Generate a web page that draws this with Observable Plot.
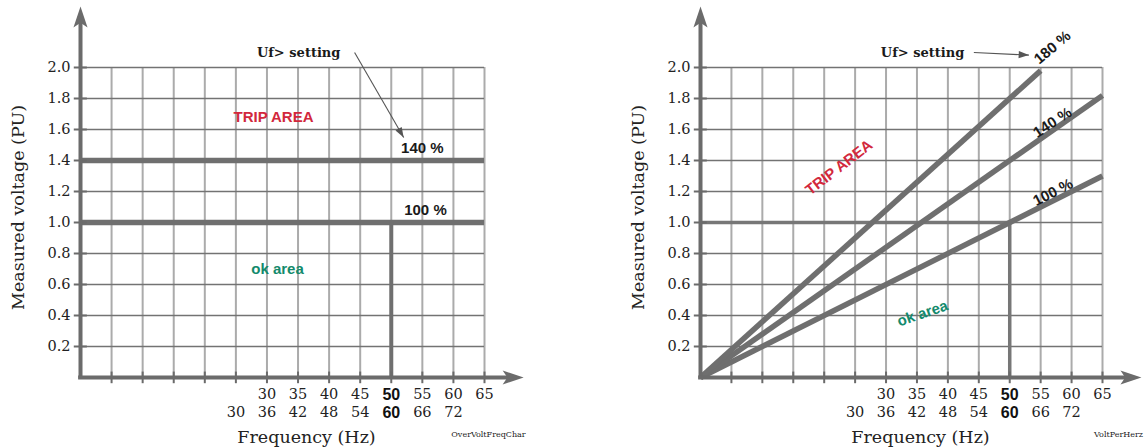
<!DOCTYPE html>
<html><head><meta charset="utf-8">
<script src="https://cdn.jsdelivr.net/npm/d3@7"></script>
<script src="https://cdn.jsdelivr.net/npm/@observablehq/plot@0.6"></script>
<style>
body{margin:0;background:#fff;}
#wrap{display:flex;width:1146px;height:448px;overflow:hidden;}
</style></head><body><div id="wrap"></div>
<script>
// ---- data ----
const freqRow50 = [30, 35, 40, 45, 50, 55, 60, 65];        // 50 Hz system labels
const freqRow60 = [30, 36, 42, 48, 54, 60, 66, 72];        // 60 Hz system labels
const gridFreqs = [5, 10, 15, 20, 25, 30, 35, 40, 45, 50, 55, 60, 65];
const voltTicks = [0.2, 0.4, 0.6, 0.8, 1.0, 1.2, 1.4, 1.6, 1.8, 2.0];
const nominal50 = 50, nominal60 = 60;
const leftSettings = [1.4, 1.0];
const leftSettingNames = ["140 %", "100 %"];
const rightSettingNames = ["100 %", "140 %", "180 %"];
const rightEndFreq = [65, 65, 55];
const rightEndVolt = [1.30, 1.82, 1.98];

const W = 573, H = 448, MT = 67, MB = 71;
const AXIS = "#6b6b6b", LINE = "#6f6f6f";
const SERIF = "DejaVu Serif", SANS = "Liberation Sans";

// custom symbols (anchor at tip, pointing up before rotation)
const stealth = {draw(ctx, size){ const r = Math.sqrt(size/Math.PI);
  ctx.moveTo(0,0); ctx.lineTo(0.67*r, 2*r); ctx.lineTo(0, 1.55*r); ctx.lineTo(-0.67*r, 2*r); ctx.closePath(); }};
const head = {draw(ctx, size){ const r = Math.sqrt(size/Math.PI);
  ctx.moveTo(0,0); ctx.lineTo(0.6*r, 1.7*r); ctx.lineTo(-0.6*r, 1.7*r); ctx.closePath(); }};

function panel(o){
  const xs = d3.scaleLinear([0,65],[o.ml, W-o.mr]);
  const ys = d3.scaleLinear([0,2],[H-MB, MT]);
  const ang = (a,b) => Math.atan2(xs(b[0])-xs(a[0]), -(ys(b[1])-ys(a[1])))*180/Math.PI;
  const rows60 = freqRow60.map(v => ({v, x: v*nominal50/nominal60}));
  const marks = [
    Plot.ruleX(gridFreqs, {y1:0, y2:2, stroke:"#ababab", strokeWidth:2}),
    Plot.ruleY(voltTicks, {x1:0, x2:65, stroke:"#737373", strokeWidth:1.3}),
    ...o.lines,
    // ticks
    Plot.ruleY(voltTicks, {x1:-1, x2:1.1, stroke:AXIS, strokeWidth:2}),
    Plot.ruleX(gridFreqs, {y1:-0.04, y2:0.035, stroke:AXIS, strokeWidth:2}),
    // axes
    Plot.ruleX([0], {y1:-0.01, y2:2.3, stroke:AXIS, strokeWidth:4}),
    Plot.ruleY([0], {x1:-0.3, x2:69.5, stroke:AXIS, strokeWidth:4}),
    Plot.dot([0], {x:0, y:2.394, symbol:stealth, r:10.5, fill:AXIS, stroke:null}),
    Plot.dot([0], {x:71.3, y:0, symbol:stealth, r:10.5, fill:AXIS, stroke:null, rotate:90}),
    // tick labels
    Plot.text(voltTicks, {x:0, y:d=>d, text:d=>d.toFixed(1), textAnchor:"end", dx:-10, fontSize:14.5, fill:"#222"}),
    Plot.text(freqRow50.filter(d=>d!==nominal50), {x:d=>d, y:0, dy:17, text:String, fontSize:14.5, fill:"#222"}),
    Plot.text([nominal50], {x:d=>d, y:0, dy:17, text:String, fontSize:16, fontFamily:SANS, fontWeight:"bold", fill:"#111"}),
    Plot.text(rows60.filter(d=>d.v!==nominal60), {x:"x", y:0, dy:35, text:d=>String(d.v), fontSize:14.5, fill:"#222"}),
    Plot.text(rows60.filter(d=>d.v===nominal60), {x:"x", y:0, dy:35, text:d=>String(d.v), fontSize:16, fontFamily:SANS, fontWeight:"bold", fill:"#111"}),
    // titles
    Plot.text(["Frequency (Hz)"], {frameAnchor:"bottom", textAnchor:"middle", lineAnchor:"middle", dx:o.tdx, dy:60, fontSize:17.5, fill:"#222"}),
    Plot.text(["Measured voltage (PU)"], {frameAnchor:"left", textAnchor:"middle", lineAnchor:"middle", rotate:-90, dx:-62, dy:-15, fontSize:17.5, fill:"#222"}),
    Plot.text([o.caption], {frameAnchor:"bottom-right", textAnchor:"middle", lineAnchor:"middle", dx:o.cdx, dy:57, fontSize:8, fill:"#222"}),
    // Uf> setting pointer
    Plot.text(["Uf> setting"], {x:o.uf[0], y:o.uf[1], fontSize:13, fontWeight:"bold", fill:"#1a1a1a"}),
    Plot.link([0], {x1:o.ptr[0][0], y1:o.ptr[0][1], x2:o.ptr[1][0], y2:o.ptr[1][1], stroke:"#555", strokeWidth:1.1}),
    Plot.dot([0], {x:o.ptr[1][0], y:o.ptr[1][1], symbol:head, r:6, fill:"#555", stroke:null, rotate:ang(o.ptr[0], o.ptr[1])}),
    ...o.labels
  ];
  return Plot.plot({
    width: W, height: H, marginLeft: o.ml, marginRight: o.mr, marginTop: MT, marginBottom: MB,
    x: {domain:[0,65], axis:null}, y: {domain:[0,2], axis:null},
    style: {background:"white", fontFamily:SERIF, overflow:"visible"},
    marks
  });
}

const left = panel({
  ml: 80, mr: 89, tdx: 24, caption: "OverVoltFreqChar", cdx: 4,
  uf: [35.1, 2.097], ptr: [[44.1, 2.097],[52.0, 1.548]],
  lines: [
    Plot.ruleY(leftSettings, {x1:0, x2:65, stroke:LINE, strokeWidth:5.5}),
    Plot.ruleX([nominal50], {y1:0, y2:1.0, stroke:LINE, strokeWidth:4})
  ],
  labels: [
    Plot.text(["TRIP AREA"], {x:31.05, y:1.677, fontFamily:SANS, fontWeight:"bold", fontSize:15, fill:"#d2283c"}),
    Plot.text(["ok area"], {x:31.7, y:0.697, fontFamily:SANS, fontWeight:"bold", fontSize:15, fill:"#138a6c"}),
    Plot.text(leftSettingNames, {x:[55.0, 55.5], y:leftSettings.map(v=>v+0.077), fontFamily:SANS, fontWeight:"bold", fontSize:15, fill:"#1a1a1a"})
  ]
});

const rightData = rightSettingNames.map((name,i) => ({name, f: rightEndFreq[i], v: rightEndVolt[i]}));
const right = panel({
  ml: 127, mr: 44, tdx: 19, caption: "VoltPerHerz", cdx: 16,
  uf: [35.9, 2.097], ptr: [[44.2, 2.097],[53.1, 2.08]],
  lines: [
    Plot.ruleY([1.0], {x1:0, x2:nominal50, stroke:"#777", strokeWidth:3.5}),
    Plot.ruleX([nominal50], {y1:0, y2:1.0, stroke:"#777", strokeWidth:3.5}),
    Plot.link(rightData, {x1:0, y1:0, x2:"f", y2:"v", stroke:LINE, strokeWidth:5.5})
  ],
  labels: [
    Plot.text(["TRIP AREA"], {x:22.4, y:1.355, rotate:-37.5, fontFamily:SANS, fontWeight:"bold", fontSize:15, fill:"#d2283c"}),
    Plot.text(["ok area"], {x:35.9, y:0.413, rotate:-19, fontFamily:SANS, fontWeight:"bold", fontSize:15, fill:"#138a6c"}),
    Plot.text(["100 %"], {x:57.0, y:1.194, rotate:-27, fontFamily:SANS, fontWeight:"bold", fontSize:15, fill:"#1a1a1a"}),
    Plot.text(["140 %"], {x:56.9, y:1.645, rotate:-33, fontFamily:SANS, fontWeight:"bold", fontSize:15, fill:"#1a1a1a"}),
    Plot.text(["180 %"], {x:56.9, y:2.129, rotate:-40, fontFamily:SANS, fontWeight:"bold", fontSize:15, fill:"#1a1a1a"})
  ]
});

document.getElementById("wrap").append(left, right);
</script></body></html>
